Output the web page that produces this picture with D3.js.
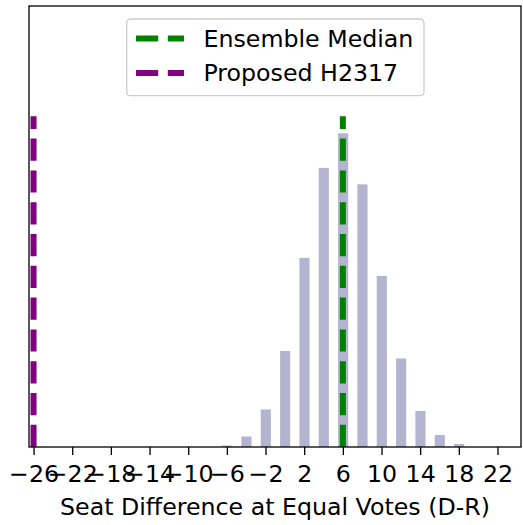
<!DOCTYPE html>
<html>
<head>
<meta charset="utf-8">
<script src="https://cdn.jsdelivr.net/npm/d3@7"></script>
<style>
  html, body { margin: 0; padding: 0; background: #fff; }
  svg { display: block; font-family: "DejaVu Sans", sans-serif; }
</style>
</head>
<body>
<svg id="chart" width="523" height="525"></svg>
<script>
// ---- data ----
const seatDiffs = [-6, -4, -2, 0, 2, 4, 6, 8, 10, 12, 14, 16, 18];
const frequencies = [0.001, 0.007, 0.025, 0.064, 0.126, 0.186, 0.209, 0.175, 0.114, 0.059, 0.024, 0.008, 0.002];
const ensembleMedian = 6;
const proposedPlan = -26;
const legendLabels = ["Ensemble Median", "Proposed H2317"];
const tickValues = [-26, -22, -18, -14, -10, -6, -2, 2, 6, 10, 14, 18, 22];
const xLabel = "Seat Difference at Equal Votes (D-R)";

// ---- layout ----
const W = 523, H = 525;
const m = { left: 29, right: 2, top: 6, bottom: 78 };
const pw = W - m.left - m.right, ph = H - m.top - m.bottom;
const FS = 23.7;

const svg = d3.select("#chart");
const g = svg.append("g").attr("transform", `translate(${m.left},${m.top})`);

const x = d3.scaleLinear().domain([-26.47, 24.43]).range([0, pw]);
const yMax = d3.max(frequencies) * 1.406;
const y = d3.scaleLinear().domain([0, yMax]).range([ph, 0]);

// bars
const bw = 1.05;
g.selectAll("rect.bar")
  .data(seatDiffs.map((d, i) => ({ d, v: frequencies[i] })))
  .enter().append("rect")
  .attr("class", "bar")
  .attr("x", p => x(p.d + 0.03 - bw / 2))
  .attr("width", p => x(p.d + 0.03 + bw / 2) - x(p.d + 0.03 - bw / 2))
  .attr("y", p => y(p.v))
  .attr("height", p => y(0) - y(p.v))
  .attr("fill", "#b4b4d0");

// vertical dashed lines (to 75% of axis height)
const lineTop = yMax * 0.75;
const vlines = [
  { v: ensembleMedian, c: "#008000" },
  { v: proposedPlan, c: "#800080" }
];
g.selectAll("line.vl")
  .data(vlines)
  .enter().append("line")
  .attr("class", "vl")
  .attr("x1", d => x(d.v)).attr("x2", d => x(d.v))
  .attr("y1", y(0)).attr("y2", y(lineTop))
  .attr("stroke", d => d.c)
  .attr("stroke-width", 6)
  .attr("stroke-dasharray", "22.2,9.6");

// x axis
const xAxis = d3.axisBottom(x)
  .tickValues(tickValues)
  .tickFormat(d3.format("d"))
  .tickSize(8)
  .tickPadding(10.5);
const ax = g.append("g").attr("transform", `translate(0,${ph})`).call(xAxis);
ax.select(".domain").remove();
ax.selectAll(".tick line").attr("stroke", "#000").attr("stroke-width", 1.3);
ax.selectAll(".tick text")
  .attr("fill", "#000")
  .style("font-size", FS + "px")
  .style("font-family", "DejaVu Sans");

// frame
g.append("rect")
  .attr("x", 0).attr("y", 0).attr("width", pw).attr("height", ph)
  .attr("fill", "none").attr("stroke", "#000").attr("stroke-width", 1.3);

// x label
svg.append("text")
  .attr("x", m.left + pw / 2)
  .attr("y", 515)
  .attr("text-anchor", "middle")
  .attr("fill", "#000")
  .style("font-size", FS + "px")
  .text(xLabel);

// legend
const lg = svg.append("g");
lg.append("rect")
  .attr("x", 126.7).attr("y", 19).attr("width", 297.3).attr("height", 76.7)
  .attr("rx", 4).attr("ry", 4)
  .attr("fill", "#fff").attr("fill-opacity", 0.8)
  .attr("stroke", "#cccccc").attr("stroke-width", 1.3);
const rowY = [38.5, 73];
vlines.forEach((d, i) => {
  lg.append("line")
    .attr("x1", 136).attr("x2", 184)
    .attr("y1", rowY[i]).attr("y2", rowY[i])
    .attr("stroke", d.c).attr("stroke-width", 6)
    .attr("stroke-dasharray", "22.2,9.6");
  lg.append("text")
    .attr("x", 203.5)
    .attr("y", rowY[i] + 8.3)
    .attr("fill", "#000")
    .style("font-size", FS + "px")
    .text(legendLabels[i]);
});
</script>
</body>
</html>
